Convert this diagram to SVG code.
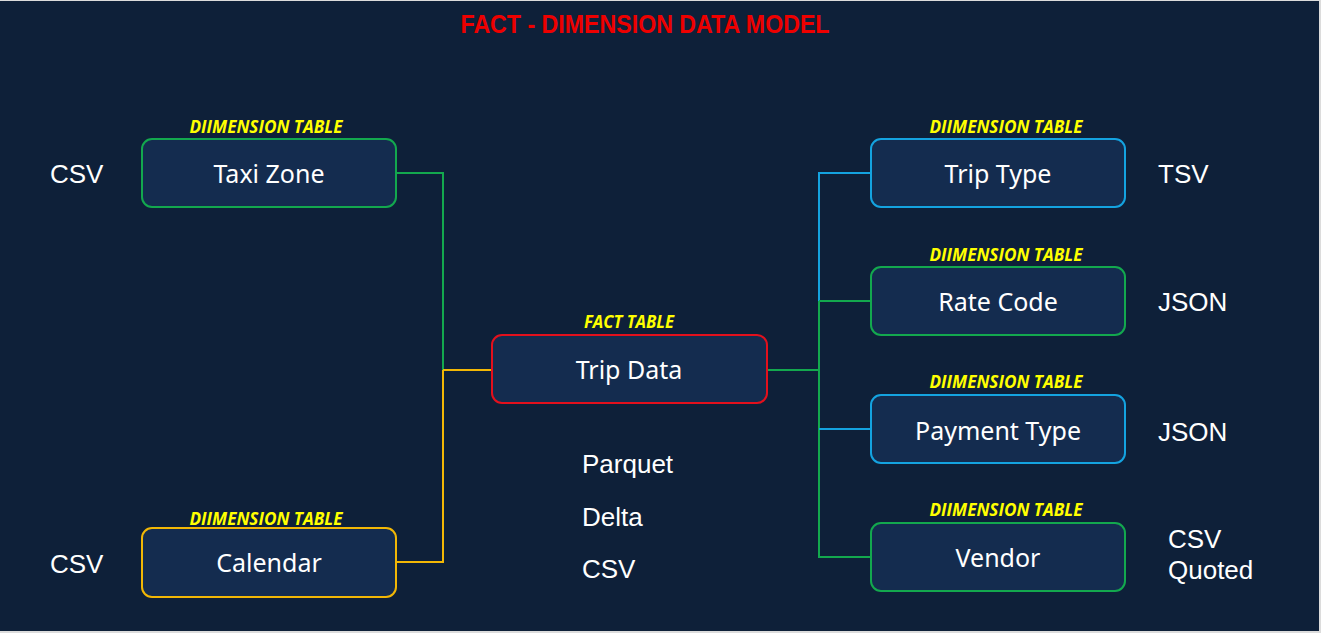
<svg xmlns="http://www.w3.org/2000/svg" width="1321" height="633" viewBox="0 0 1321 633">
<style>
.box{fill:#142c4f;stroke-width:2}
.g{stroke:#13a84e}
.b{stroke:#14a3e0}
.y{stroke:#f2b705}
.r{stroke:#e3101c}
.tag{font-family:"Open Sans","Liberation Sans",sans-serif;font-weight:bold;font-style:italic;font-size:17px;fill:#ffff00;text-anchor:middle}
.name{font-family:"Noto Sans","Open Sans",sans-serif;font-size:25px;fill:#ffffff;text-anchor:middle}
.fmt{font-family:"Liberation Sans",Arial,sans-serif;font-size:26px;fill:#ffffff}
.conn{fill:none;stroke-width:2}
</style>
<rect x="0" y="0" width="1321" height="633" fill="#dcdcdc"/>
<rect x="0" y="1" width="1319" height="630" fill="#0e2039"/>
<text x="645" y="33" font-family="'Liberation Sans',Arial,sans-serif" font-weight="bold" font-size="26" fill="#ee0000" text-anchor="middle" textLength="369" lengthAdjust="spacingAndGlyphs">FACT - DIMENSION DATA MODEL</text>

<g id="connectors">
<path class="conn g" d="M396,173 H443 V370"/>
<path class="conn y" d="M443,370 H492 M443,370 V562 H396"/>
<path class="conn g" d="M767,370 H819"/>
<path class="conn b" d="M871,173 H819 V301"/>
<path class="conn g" d="M819,301 V557 H871 M819,301 H871"/>
<path class="conn b" d="M819,429 H871"/>
</g>

<g id="taxi-zone">
<text class="tag" x="266" y="133" textLength="153" lengthAdjust="spacingAndGlyphs">DIIMENSION TABLE</text>
<rect class="box g" x="142" y="139" width="254" height="68" rx="10"/>
<text class="name" x="269" y="183">Taxi Zone</text>
<text class="fmt" x="50" y="183">CSV</text>
</g>

<g id="calendar">
<text class="tag" x="266" y="525" textLength="153" lengthAdjust="spacingAndGlyphs">DIIMENSION TABLE</text>
<rect class="box y" x="142" y="528" width="254" height="69" rx="10"/>
<text class="name" x="269" y="572">Calendar</text>
<text class="fmt" x="50" y="573">CSV</text>
</g>

<g id="trip-data">
<text class="tag" x="629" y="328" textLength="90" lengthAdjust="spacingAndGlyphs">FACT TABLE</text>
<rect class="box r" x="492" y="335" width="275" height="68" rx="10"/>
<text class="name" x="629" y="379">Trip Data</text>
<text class="fmt" x="582" y="473">Parquet</text>
<text class="fmt" x="582" y="526">Delta</text>
<text class="fmt" x="582" y="578">CSV</text>
</g>

<g id="trip-type">
<text class="tag" x="1006" y="133" textLength="153" lengthAdjust="spacingAndGlyphs">DIIMENSION TABLE</text>
<rect class="box b" x="871" y="139" width="254" height="68" rx="10"/>
<text class="name" x="998" y="183">Trip Type</text>
<text class="fmt" x="1158" y="183">TSV</text>
</g>

<g id="rate-code">
<text class="tag" x="1006" y="261" textLength="153" lengthAdjust="spacingAndGlyphs">DIIMENSION TABLE</text>
<rect class="box g" x="871" y="267" width="254" height="68" rx="10"/>
<text class="name" x="998" y="311">Rate Code</text>
<text class="fmt" x="1158" y="311">JSON</text>
</g>

<g id="payment-type">
<text class="tag" x="1006" y="388" textLength="153" lengthAdjust="spacingAndGlyphs">DIIMENSION TABLE</text>
<rect class="box b" x="871" y="395" width="254" height="68" rx="10"/>
<text class="name" x="998" y="440">Payment Type</text>
<text class="fmt" x="1158" y="441">JSON</text>
</g>

<g id="vendor">
<text class="tag" x="1006" y="516" textLength="153" lengthAdjust="spacingAndGlyphs">DIIMENSION TABLE</text>
<rect class="box g" x="871" y="523" width="254" height="68" rx="10"/>
<text class="name" x="998" y="567">Vendor</text>
<text class="fmt" x="1168" y="548">CSV</text>
<text class="fmt" x="1168" y="579">Quoted</text>
</g>
</svg>
